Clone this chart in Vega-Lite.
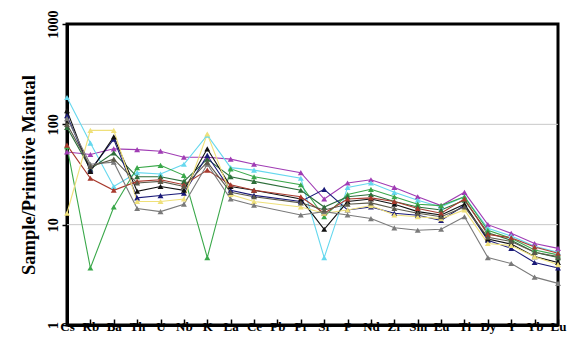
{
  "$schema": "https://vega.github.io/schema/vega-lite/v6.json",
  "width": 491,
  "height": 301,
  "autosize": "none",
  "padding": {"left": 67, "top": 24, "right": 10, "bottom": 18},
  "background": "white",
  "config": {
    "view": {"stroke": "black", "strokeWidth": 3},
    "font": "Liberation Serif"
  },
  "datasets": {
    "grid": [{"g": 10}, {"g": 100}]
  },
  "data": {"values": [
    {"s":"magenta","e":"Cs","v":53},{"s":"magenta","e":"Rb","v":50},{"s":"magenta","e":"Ba","v":57},{"s":"magenta","e":"Th","v":56},{"s":"magenta","e":"U","v":54},{"s":"magenta","e":"Nb","v":47},{"s":"magenta","e":"K","v":47},{"s":"magenta","e":"La","v":45},{"s":"magenta","e":"Ce","v":40},{"s":"magenta","e":"Pr","v":33},{"s":"magenta","e":"Sr","v":18},{"s":"magenta","e":"P","v":26},{"s":"magenta","e":"Nd","v":28},{"s":"magenta","e":"Zr","v":23.5},{"s":"magenta","e":"Sm","v":19},{"s":"magenta","e":"Eu","v":15.5},{"s":"magenta","e":"Ti","v":21},{"s":"magenta","e":"Dy","v":10},{"s":"magenta","e":"Y","v":8.2},{"s":"magenta","e":"Yb","v":6.5},{"s":"magenta","e":"Lu","v":5.8},
    {"s":"cyan","e":"Cs","v":185},{"s":"cyan","e":"Rb","v":65},{"s":"cyan","e":"Ba","v":24},{"s":"cyan","e":"Th","v":33},{"s":"cyan","e":"U","v":32},{"s":"cyan","e":"Nb","v":40},{"s":"cyan","e":"K","v":78},{"s":"cyan","e":"La","v":37},{"s":"cyan","e":"Ce","v":35},{"s":"cyan","e":"Pr","v":29},{"s":"cyan","e":"Sr","v":4.7},{"s":"cyan","e":"P","v":23.5},{"s":"cyan","e":"Nd","v":26},{"s":"cyan","e":"Zr","v":21},{"s":"cyan","e":"Sm","v":17.5},{"s":"cyan","e":"Eu","v":15},{"s":"cyan","e":"Ti","v":19},{"s":"cyan","e":"Dy","v":9.2},{"s":"cyan","e":"Y","v":7.7},{"s":"cyan","e":"Yb","v":6.1},{"s":"cyan","e":"Lu","v":5.3},
    {"s":"green","e":"Cs","v":60},{"s":"green","e":"Rb","v":3.7},{"s":"green","e":"Ba","v":15},{"s":"green","e":"Th","v":37},{"s":"green","e":"U","v":39},{"s":"green","e":"Nb","v":31},{"s":"green","e":"K","v":4.7},{"s":"green","e":"La","v":36},{"s":"green","e":"Ce","v":30},{"s":"green","e":"Pr","v":25},{"s":"green","e":"Sr","v":12},{"s":"green","e":"P","v":20},{"s":"green","e":"Nd","v":22.5},{"s":"green","e":"Zr","v":19},{"s":"green","e":"Sm","v":16},{"s":"green","e":"Eu","v":15.5},{"s":"green","e":"Ti","v":19},{"s":"green","e":"Dy","v":8.8},{"s":"green","e":"Y","v":7.3},{"s":"green","e":"Yb","v":5.6},{"s":"green","e":"Lu","v":5},
    {"s":"darkgreen","e":"Cs","v":93},{"s":"darkgreen","e":"Rb","v":36},{"s":"darkgreen","e":"Ba","v":52},{"s":"darkgreen","e":"Th","v":30},{"s":"darkgreen","e":"U","v":30},{"s":"darkgreen","e":"Nb","v":27},{"s":"darkgreen","e":"K","v":45},{"s":"darkgreen","e":"La","v":30},{"s":"darkgreen","e":"Ce","v":27},{"s":"darkgreen","e":"Pr","v":22},{"s":"darkgreen","e":"Sr","v":15},{"s":"darkgreen","e":"P","v":19},{"s":"darkgreen","e":"Nd","v":20},{"s":"darkgreen","e":"Zr","v":17},{"s":"darkgreen","e":"Sm","v":15},{"s":"darkgreen","e":"Eu","v":14},{"s":"darkgreen","e":"Ti","v":17.5},{"s":"darkgreen","e":"Dy","v":8.3},{"s":"darkgreen","e":"Y","v":7},{"s":"darkgreen","e":"Yb","v":5.3},{"s":"darkgreen","e":"Lu","v":4.7},
    {"s":"navy","e":"Cs","v":122},{"s":"navy","e":"Rb","v":35},{"s":"navy","e":"Ba","v":71},{"s":"navy","e":"Th","v":18.5},{"s":"navy","e":"U","v":19.5},{"s":"navy","e":"Nb","v":20.6},{"s":"navy","e":"K","v":49},{"s":"navy","e":"La","v":22},{"s":"navy","e":"Ce","v":19.6},{"s":"navy","e":"Pr","v":17},{"s":"navy","e":"Sr","v":22.5},{"s":"navy","e":"P","v":14},{"s":"navy","e":"Nd","v":15},{"s":"navy","e":"Zr","v":13},{"s":"navy","e":"Sm","v":12.4},{"s":"navy","e":"Eu","v":11},{"s":"navy","e":"Ti","v":15.6},{"s":"navy","e":"Dy","v":7},{"s":"navy","e":"Y","v":5.8},{"s":"navy","e":"Yb","v":4.2},{"s":"navy","e":"Lu","v":3.7},
    {"s":"black","e":"Cs","v":137},{"s":"black","e":"Rb","v":34},{"s":"black","e":"Ba","v":75},{"s":"black","e":"Th","v":21.5},{"s":"black","e":"U","v":24},{"s":"black","e":"Nb","v":22},{"s":"black","e":"K","v":57},{"s":"black","e":"La","v":24},{"s":"black","e":"Ce","v":22},{"s":"black","e":"Pr","v":18},{"s":"black","e":"Sr","v":9},{"s":"black","e":"P","v":17},{"s":"black","e":"Nd","v":18},{"s":"black","e":"Zr","v":16},{"s":"black","e":"Sm","v":13.5},{"s":"black","e":"Eu","v":12.5},{"s":"black","e":"Ti","v":16},{"s":"black","e":"Dy","v":7.2},{"s":"black","e":"Y","v":6.4},{"s":"black","e":"Yb","v":4.8},{"s":"black","e":"Lu","v":4.2},
    {"s":"brown","e":"Cs","v":62},{"s":"brown","e":"Rb","v":29},{"s":"brown","e":"Ba","v":22},{"s":"brown","e":"Th","v":27},{"s":"brown","e":"U","v":28},{"s":"brown","e":"Nb","v":25},{"s":"brown","e":"K","v":35},{"s":"brown","e":"La","v":25},{"s":"brown","e":"Ce","v":22},{"s":"brown","e":"Pr","v":19},{"s":"brown","e":"Sr","v":13},{"s":"brown","e":"P","v":18},{"s":"brown","e":"Nd","v":18.5},{"s":"brown","e":"Zr","v":17},{"s":"brown","e":"Sm","v":14.5},{"s":"brown","e":"Eu","v":13},{"s":"brown","e":"Ti","v":18},{"s":"brown","e":"Dy","v":8},{"s":"brown","e":"Y","v":7.4},{"s":"brown","e":"Yb","v":6},{"s":"brown","e":"Lu","v":5.2},
    {"s":"yellow","e":"Cs","v":13},{"s":"yellow","e":"Rb","v":87},{"s":"yellow","e":"Ba","v":87},{"s":"yellow","e":"Th","v":17},{"s":"yellow","e":"U","v":17},{"s":"yellow","e":"Nb","v":18},{"s":"yellow","e":"K","v":80},{"s":"yellow","e":"La","v":20},{"s":"yellow","e":"Ce","v":17},{"s":"yellow","e":"Pr","v":15},{"s":"yellow","e":"Sr","v":13},{"s":"yellow","e":"P","v":14},{"s":"yellow","e":"Nd","v":15.5},{"s":"yellow","e":"Zr","v":12.5},{"s":"yellow","e":"Sm","v":12},{"s":"yellow","e":"Eu","v":11.5},{"s":"yellow","e":"Ti","v":14},{"s":"yellow","e":"Dy","v":6.5},{"s":"yellow","e":"Y","v":6.2},{"s":"yellow","e":"Yb","v":4.8},{"s":"yellow","e":"Lu","v":4},
    {"s":"gray","e":"Cs","v":114},{"s":"gray","e":"Rb","v":40},{"s":"gray","e":"Ba","v":42},{"s":"gray","e":"Th","v":14.5},{"s":"gray","e":"U","v":13.5},{"s":"gray","e":"Nb","v":16},{"s":"gray","e":"K","v":40},{"s":"gray","e":"La","v":18},{"s":"gray","e":"Ce","v":15.6},{"s":"gray","e":"Pr","v":12.5},{"s":"gray","e":"Sr","v":13.5},{"s":"gray","e":"P","v":12.5},{"s":"gray","e":"Nd","v":11.5},{"s":"gray","e":"Zr","v":9.3},{"s":"gray","e":"Sm","v":8.8},{"s":"gray","e":"Eu","v":9},{"s":"gray","e":"Ti","v":12},{"s":"gray","e":"Dy","v":4.7},{"s":"gray","e":"Y","v":4.1},{"s":"gray","e":"Yb","v":3},{"s":"gray","e":"Lu","v":2.6},
    {"s":"olive","e":"Cs","v":100},{"s":"olive","e":"Rb","v":38},{"s":"olive","e":"Ba","v":45},{"s":"olive","e":"Th","v":26},{"s":"olive","e":"U","v":27},{"s":"olive","e":"Nb","v":24},{"s":"olive","e":"K","v":42},{"s":"olive","e":"La","v":21},{"s":"olive","e":"Ce","v":19},{"s":"olive","e":"Pr","v":16.5},{"s":"olive","e":"Sr","v":14},{"s":"olive","e":"P","v":16},{"s":"olive","e":"Nd","v":16.5},{"s":"olive","e":"Zr","v":14.5},{"s":"olive","e":"Sm","v":13},{"s":"olive","e":"Eu","v":12},{"s":"olive","e":"Ti","v":15},{"s":"olive","e":"Dy","v":7.5},{"s":"olive","e":"Y","v":6.8},{"s":"olive","e":"Yb","v":5.3},{"s":"olive","e":"Lu","v":4.8}
  ]},
  "layer": [
    {
      "data": {"name": "grid"},
      "mark": {"type": "rule", "color": "#c8c8c8", "strokeWidth": 1},
      "encoding": {
        "y": {"field": "g", "type": "quantitative", "scale": {"type": "log", "domain": [1, 1000]}}
      }
    },
    {
      "mark": {"type": "line", "strokeWidth": 1.1},
      "encoding": {
        "x": {"field": "e", "type": "ordinal", "sort": null,
          "scale": {"type": "point", "padding": 0, "domain": ["Cs","Rb","Ba","Th","U","Nb","K","La","Ce","Pb","Pr","Sr","P","Nd","Zr","Sm","Eu","Ti","Dy","Y","Yb","Lu"]},
          "axis": {"title": null, "labelAngle": 0, "labelFont": "Liberation Serif", "labelFontWeight": "bold", "labelFontSize": 13, "labelColor": "black", "labelPadding": 1, "labelOverlap": false, "tickSize": -6, "tickColor": "black", "tickWidth": 1.5, "domainColor": "black", "domainWidth": 3, "grid": false}},
        "y": {"field": "v", "type": "quantitative",
          "scale": {"type": "log", "domain": [1, 1000]},
          "axis": {"title": "Sample/Primitive Mantal", "titleFont": "Liberation Serif", "titleFontWeight": "bold", "titleFontSize": 18.5, "titleColor": "black", "titlePadding": 8, "values": [1, 10, 100, 1000], "format": "d", "labelAngle": 270, "labelAlign": "center", "labelBaseline": "bottom", "labelFont": "Liberation Serif", "labelFontWeight": "bold", "labelFontSize": 14, "labelColor": "black", "labelPadding": 2, "labelOverlap": false, "tickSize": 5, "tickColor": "black", "tickWidth": 1.5, "domainColor": "black", "domainWidth": 3, "grid": false}},
        "color": {"field": "s", "type": "nominal", "legend": null,
          "scale": {"domain": ["magenta","cyan","green","darkgreen","navy","black","brown","yellow","gray","olive"],
                    "range": ["#a03cb4","#66d8ee","#3aa84a","#2d6e3a","#1a1a78","#111111","#a83a2e","#efe07a","#7a7a7a","#5c5a4a"]}},
        "order": {"value": null}
      }
    },
    {
      "mark": {"type": "point", "shape": "triangle-up", "filled": true, "size": 35, "opacity": 1},
      "encoding": {
        "x": {"field": "e", "type": "ordinal", "sort": null},
        "y": {"field": "v", "type": "quantitative"},
        "color": {"field": "s", "type": "nominal", "legend": null}
      }
    }
  ]
}
